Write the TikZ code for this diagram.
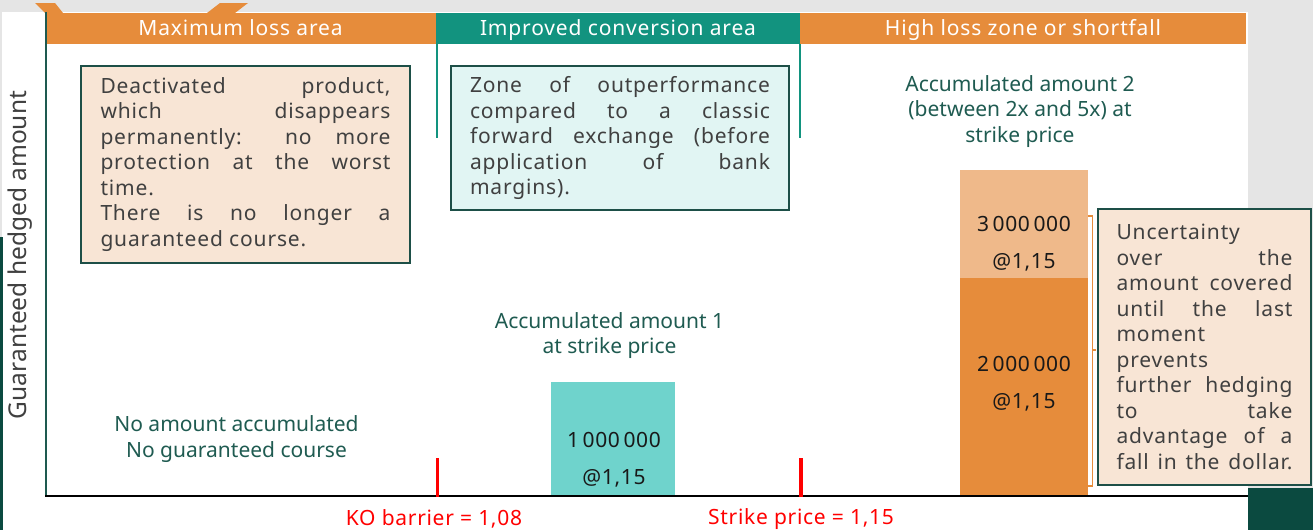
\documentclass[tikz,border=0pt]{standalone}
\usepackage{fontspec}
\setmainfont{Noto Sans}
\newfontfamily\spacedfont{Noto Sans}[LetterSpace=4.0]
\newfontfamily\redfont{Noto Sans}[LetterSpace=3.3]
\definecolor{orangeA}{HTML}{E68C3B}
\definecolor{tealA}{HTML}{12937F}
\definecolor{peach}{HTML}{F8E5D5}
\definecolor{icecyan}{HTML}{E1F5F3}
\definecolor{boxgreen}{HTML}{1D4F47}
\definecolor{labgreen}{HTML}{1F5B51}
\definecolor{txtgray}{HTML}{404040}
\definecolor{lightorange}{HTML}{EFB98A}
\definecolor{barteal}{HTML}{6FD3CC}
\definecolor{darkgreen}{HTML}{0B4A40}
\definecolor{bggray}{HTML}{E5E5E5}
\definecolor{axisgreen}{HTML}{1E5A50}
\definecolor{tickred}{HTML}{FF0000}
\begin{document}
\begin{tikzpicture}[x=1pt,y=-1pt,
  every node/.style={inner sep=0pt, outer sep=0pt},
  hdr/.style={anchor=north west, minimum height=31pt, text height=15pt, text depth=1pt, text=white, font=\spacedfont\fontsize{21}{25}\selectfont},
  infobox/.style={draw=boxgreen, line width=1.8pt, anchor=north west, align=justify, text=txtgray, font=\spacedfont\fontsize{21}{25.5}\selectfont},
  caption/.style={align=center, text=labgreen, font=\fontsize{21}{25.5}\selectfont},
  bartext/.style={align=center, text=black!90, font=\redfont\fontsize{21}{37}\selectfont},
  redlabel/.style={text=tickred, font=\redfont\fontsize{21}{25}\selectfont},
  redtick/.style={draw=tickred},
  barbox/.style={anchor=north west, draw=none},
  zoneline/.style={draw=tealA, line width=2pt},
  bracketline/.style={draw=orangeA, line width=1.5pt}
]
\useasboundingbox (0,0) rectangle (1313,530);
% background pieces
\fill[bggray] (0,0) rectangle (1313,12);
\fill[bggray] (1248,0) rectangle (1313,488);
\fill[darkgreen] (1248,488) rectangle (1313,530);
\fill[bggray] (0,12) rectangle (2,237);
\fill[darkgreen] (0,237) rectangle (3,530);
\fill[orangeA] (35,3) -- (55,3) -- (63,13) -- (45,13) -- cycle;
\fill[orangeA] (220,3) -- (248,3) -- (235,13) -- (207,13) -- cycle;

% headers
\node[hdr, fill=orangeA, minimum width=391pt] (h1) at (45,13) {Maximum loss area};
\node[hdr, fill=tealA, minimum width=364pt] (h2) at (436,13) {Improved conversion area};
\node[hdr, fill=orangeA, minimum width=446pt] (h3) at (800,13) {High loss zone or shortfall};
\draw[zoneline] ([xshift=1pt]h2.south west) -- ++(0,94);
\draw[zoneline] (h2.south east) -- ++(0,94);

% info boxes
\node[infobox, fill=peach, text width=290pt, inner xsep=19.5pt, minimum height=197pt] (b1) at (81,66)
 {\tolerance=10000\hyphenpenalty=10000 Deactivated product,\linebreak which disappears\linebreak permanently: no more\linebreak protection at the worst\linebreak time.\\ There is no longer a\linebreak guaranteed course.};
\node[infobox, fill=icecyan, text width=300pt, inner xsep=19pt, minimum height=144pt] (b2) at (451,66)
 {\tolerance=10000\hyphenpenalty=10000 Zone of outperformance\linebreak compared to a classic\linebreak forward exchange (before\linebreak application of bank\linebreak margins).};
\node[infobox, fill=peach, text width=176pt, inner xsep=18.5pt, minimum height=276pt] (b3) at (1098,209)
 {\tolerance=10000\hyphenpenalty=10000 Uncertainty\\ over the\linebreak amount covered\linebreak until the last\linebreak moment\\ prevents\\ further hedging\linebreak to take\linebreak advantage of a\linebreak \makebox[\linewidth][s]{fall in the dollar.}};

% bars
\node[barbox, fill=barteal, minimum width=124pt, minimum height=113pt] (bar1) at (551,382) {};
\node[barbox, fill=orangeA, minimum width=128pt, minimum height=217pt] (bar2) at (960,278) {};
\node[barbox, fill=lightorange, minimum width=128pt, minimum height=108pt] (bar3) at (960,170) {};
\node[bartext] (v1) at (614,459.5) {1\,000\,000\\@1,15};
\node[bartext] (v3) at (1024,244) {3\,000\,000\\@1,15};
\node[bartext] (v2) at (1024,383.5) {2\,000\,000\\@1,15};

% captions
\node[caption] (c2) at (1020,111.5) {Accumulated amount 2\\(between 2x and 5x) at\\strike price};
\node[caption] (c1) at (609.5,335.5) {Accumulated amount 1\\at strike price};
\node[caption] (c0) at (236.5,439) {No amount accumulated\\No guaranteed course};

% bracket
\coordinate (brt) at (1088,216);
\coordinate (brb) at (1088,486);
\coordinate (brm) at (1092.5,350);
\draw[bracketline] (brt) -- ++(4.5,0) |- (brb);
\draw[bracketline] (brm) -- ++(3.5,0);

% axes
\coordinate (org) at (46,496);
\coordinate (ytop) at (46,12);
\coordinate (xend) at (1248,496);
\draw[axisgreen, line width=1.6pt] (org) -- (ytop);
\draw[black, line width=2.2pt] ([xshift=-1pt]org) -- (xend);
\node[rotate=90, text=txtgray, font=\fontsize{24.5}{28}\selectfont] (ylab) at (20,255) {Guaranteed hedged amount};

% red ticks and labels
\coordinate (kob) at (437,497);
\coordinate (kot) at (437,458);
\coordinate (stb) at (800.5,497);
\coordinate (stt) at (800.5,458);
\draw[redtick, line width=3pt] (kob) -- (kot);
\draw[redtick, line width=4pt] (stb) -- (stt);
\node[redlabel] (kol) at (434,519) {KO barrier = 1,08};
\node[redlabel] (stl) at (801,519) {Strike price = 1,15};
\end{tikzpicture}
\end{document}
